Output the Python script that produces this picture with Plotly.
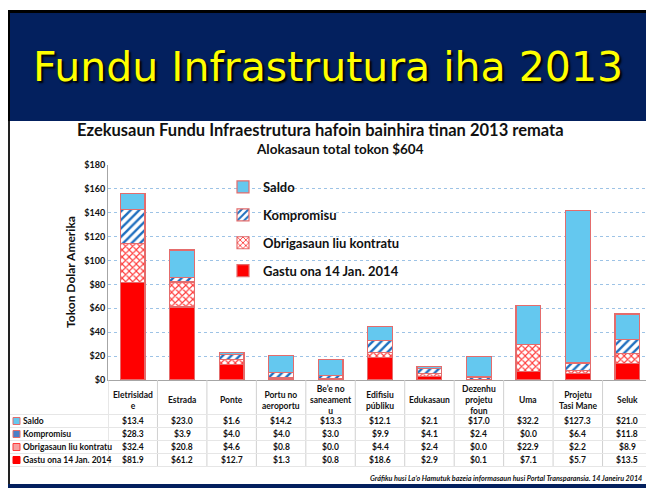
import plotly.graph_objects as go

categories = ["Eletrisidad<br>e", "Estrada", "Ponte", "Portu no<br>aeroportu",
              "Be’e no<br>saneament<br>u", "Edifisiu<br>públiku", "Edukasaun",
              "Dezenhu<br>projetu<br>foun", "Uma", "Projetu<br>Tasi Mane", "Seluk"]
saldo = [13.4, 23.0, 1.6, 14.2, 13.3, 12.1, 2.1, 17.0, 32.2, 127.3, 21.0]
kompromisu = [28.3, 3.9, 4.0, 4.0, 3.0, 9.9, 4.1, 2.4, 0.0, 6.4, 11.8]
obrigasaun = [32.4, 20.8, 4.6, 0.8, 0.0, 4.4, 2.4, 0.0, 22.9, 2.2, 8.9]
gastu = [81.9, 61.2, 12.7, 1.3, 0.8, 18.6, 2.9, 0.1, 7.1, 5.7, 13.5]
series_names = ["Saldo", "Kompromisu", "Obrigasaun liu kontratu", "Gastu ona 14 Jan. 2014"]
y_ticks = [0, 20, 40, 60, 80, 100, 120, 140, 160, 180]

# page has an 8px body margin; figure drawn at (8, 8)
OFF = 8
W, H = 654 - OFF, 488 - OFF
PX0, PX1 = 108, 652      # plot area in page px
PY0, PY1 = 165, 380
L, R = PX0 - OFF, (654 - PX1)
T, B = PY0 - OFF, 488 - PY1
PW, PH = PX1 - PX0, PY1 - PY0

def px(x):
    return (x - PX0) / PW

def py(y):
    return (PY1 - y) / PH

FONT = "Lato"
EDGE = "#E46C6C"
idx = list(range(len(categories)))

fig = go.Figure()
fig.add_trace(go.Bar(x=idx, y=gastu, name=series_names[3], legendgroup="d", legendrank=4,
                     marker=dict(color="#FF0000", line=dict(color=EDGE, width=1.2))))
fig.add_trace(go.Bar(x=idx, y=obrigasaun, name=series_names[2], legendgroup="c", legendrank=3,
                     marker=dict(color="white", line=dict(color=EDGE, width=1.2),
                                 pattern=dict(shape="x", fgcolor="#FF3B3B", bgcolor="white",
                                              size=5, solidity=0.4, fillmode="replace"))))
fig.add_trace(go.Bar(x=idx, y=kompromisu, name=series_names[1], legendgroup="b", legendrank=2,
                     marker=dict(color="white", line=dict(color=EDGE, width=1.2),
                                 pattern=dict(shape="/", fgcolor="#1F6FBF", bgcolor="white",
                                              size=6, solidity=0.4, fillmode="replace"))))
fig.add_trace(go.Bar(x=idx, y=saldo, name=series_names[0], legendgroup="a", legendrank=1,
                     marker=dict(color="#64C8EF", line=dict(color=EDGE, width=1.2))))

shapes = []
# header frame
shapes.append(dict(type="rect", xref="paper", yref="paper", x0=px(7), x1=px(660),
                   y0=py(121), y1=py(10), fillcolor="black", line=dict(width=0), layer="below"))
shapes.append(dict(type="rect", xref="paper", yref="paper", x0=px(10), x1=px(660),
                   y0=py(121), y1=py(13), fillcolor="#03205E", line=dict(width=0), layer="below"))
shapes.append(dict(type="rect", xref="paper", yref="paper", x0=px(7), x1=px(10),
                   y0=py(490), y1=py(121), fillcolor="#222222", line=dict(width=0), layer="below"))
shapes.append(dict(type="rect", xref="paper", yref="paper", x0=px(7), x1=px(660),
                   y0=py(490), y1=py(484), fillcolor="#03205E", line=dict(width=0), layer="below"))

# table grid
row_y = [421, 434, 447, 460]
for i in range(len(categories) + 1):
    shapes.append(dict(type="line", xref="x", yref="paper", x0=i - 0.5, x1=i - 0.5,
                       y0=py(467), y1=py(380), line=dict(color="#D0D0D0", width=1)))
for yb in [414.5, 427.5, 440.5, 453.5, 466.5]:
    shapes.append(dict(type="line", xref="paper", yref="paper", x0=px(10), x1=px(652),
                       y0=py(yb), y1=py(yb), line=dict(color="#E6E6E6", width=1)))

# row legend keys
key_style = [("#64C8EF", EDGE), ("#4A7FC8", "#E46C6C"), ("#F7A0A0", "#FF3B3B"), ("#FF0000", "#FF0000")]
for (fc, lc), yy in zip(key_style, row_y):
    shapes.append(dict(type="rect", xref="paper", yref="paper", x0=px(13), x1=px(20),
                       y0=py(yy + 3.5), y1=py(yy - 3.5), fillcolor=fc, line=dict(color=lc, width=1)))

annotations = []
annotations.append(dict(text="Fundu Infrastrutura iha 2013", xref="paper", yref="paper",
                        x=px(328), y=py(67), xanchor="center", yanchor="middle", showarrow=False,
                        font=dict(family="DejaVu Sans", size=41, color="#FFFF00",
                                  shadow="2px 2px 2px #000000")))
annotations.append(dict(text="<b>Ezekusaun Fundu Infraestrutura hafoin bainhira tinan 2013 remata</b>",
                        xref="paper", yref="paper", x=px(320), y=py(130), xanchor="center",
                        yanchor="middle", showarrow=False, font=dict(family=FONT, size=16.5, color="#111")))
annotations.append(dict(text="<b>Alokasaun total tokon $604</b>",
                        xref="paper", yref="paper", x=px(340), y=py(149), xanchor="center",
                        yanchor="middle", showarrow=False, font=dict(family=FONT, size=13.5, color="#111")))
annotations.append(dict(text="<b>Tokon Dolar Amerika</b>", xref="paper", yref="paper",
                        x=px(70), y=py(272), xanchor="center", yanchor="middle", textangle=-90,
                        showarrow=False, font=dict(family=FONT, size=12, color="#111")))
for i, c in enumerate(categories):
    annotations.append(dict(text="<b>" + c + "</b>", xref="x", yref="paper", x=i, y=py(400),
                            xanchor="center", yanchor="middle", showarrow=False,
                            font=dict(family=FONT, size=8.5, color="#111")))
for name, vals, yy in zip(series_names, [saldo, kompromisu, obrigasaun, gastu], row_y):
    annotations.append(dict(text="<b>" + name + "</b>", xref="paper", yref="paper", x=px(21),
                            y=py(yy), xanchor="left", yanchor="middle", showarrow=False,
                            font=dict(family=FONT, size=8.5, color="#111")))
    for i, v in enumerate(vals):
        annotations.append(dict(text="<b>$%.1f</b>" % v, xref="x", yref="paper", x=i, y=py(yy),
                                xanchor="center", yanchor="middle", showarrow=False,
                                font=dict(family=FONT, size=8.5, color="#111")))
annotations.append(dict(text="<b><i>Gráfiku husi La’o Hamutuk bazeia informasaun husi Portal Transparansia. 14 Janeiru 2014</i></b>",
                        xref="paper", yref="paper", x=px(644), y=py(478), xanchor="right",
                        yanchor="middle", showarrow=False, font=dict(family=FONT, size=7.2, color="#111")))

fig.update_layout(
    width=W, height=H, margin=dict(l=L, r=R, t=T, b=B, pad=0),
    paper_bgcolor="white", plot_bgcolor="white",
    barmode="stack", bargap=0.5,
    showlegend=True,
    legend=dict(x=px(223), y=py(172), xanchor="left", yanchor="top", traceorder="grouped",
                bgcolor="rgba(0,0,0,0)", tracegroupgap=8,
                font=dict(family=FONT, size=13, color="#111", weight="bold")),
    xaxis=dict(range=[-0.5, len(categories) - 0.5], showticklabels=False, showgrid=False,
               showline=True, linecolor="#A6A6A6", linewidth=1, zeroline=False, ticks=""),
    yaxis=dict(range=[0, 180], tickvals=y_ticks, ticktext=["$%d" % v for v in y_ticks],
               showgrid=True, gridcolor="#9DC3E6", griddash="dot", gridwidth=1,
               showline=True, linecolor="#A6A6A6", linewidth=1, zeroline=False, ticks="",
               tickfont=dict(family=FONT, size=9, color="#111", weight="bold")),
    shapes=shapes, annotations=annotations,
)

fig.write_html("out.html")
